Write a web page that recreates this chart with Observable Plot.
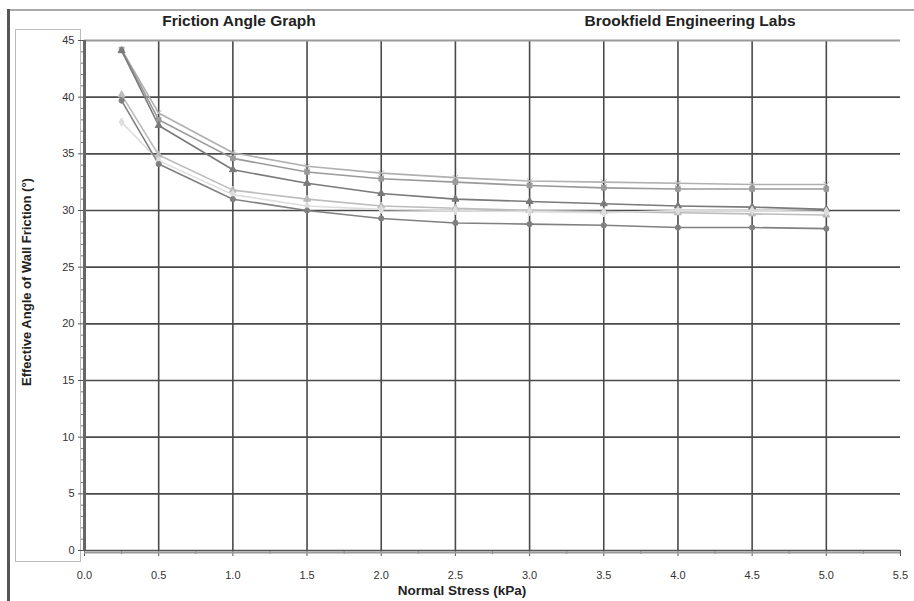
<!DOCTYPE html>
<html>
<head>
<meta charset="utf-8">
<script src="https://cdn.jsdelivr.net/npm/d3@7"></script>
<script src="https://cdn.jsdelivr.net/npm/@observablehq/plot@0.6"></script>
<style>
  html, body { margin: 0; padding: 0; background: #fff; }
  #wrap { position: relative; width: 914px; height: 601px; overflow: hidden; font-family: "Liberation Sans", Arial, sans-serif; }
  .title { position: absolute; top: 12px; font-family: "Liberation Sans Narrow", "Arial Narrow", "Liberation Sans", sans-serif; font-weight: bold; font-size: 15.5px; color: #222; transform: translateX(-50%); white-space: nowrap; }
  #leftbar { position: absolute; left: 7px; top: 9px; width: 3px; height: 592px; background: #555; }
  #topbar { position: absolute; left: 8px; top: 9px; width: 906px; height: 2px; background: #aaa; }
  #ybox { position: absolute; left: 15px; top: 29px; width: 66px; height: 533px; border: 1px solid #bbb; box-sizing: border-box; }
  #ylabel { position: absolute; left: 26px; top: 282px; transform: translate(-50%, -50%) rotate(-90deg); font-family: "Liberation Sans Narrow", "Arial Narrow", "Liberation Sans", sans-serif; font-weight: bold; font-size: 13px; color: #222; white-space: nowrap; }
  #xlabel { position: absolute; left: 462px; top: 583px; transform: translateX(-50%); font-family: "Liberation Sans Narrow", "Arial Narrow", "Liberation Sans", sans-serif; font-weight: bold; font-size: 13.5px; color: #222; white-space: nowrap; }
  #chart { position: absolute; left: 0; top: 28px; }
</style>
</head>
<body>
<div id="wrap">
  <div id="topbar"></div>
  <div id="leftbar"></div>
  <div id="ybox"></div>
  <div class="title" style="left:239px">Friction Angle Graph</div>
  <div class="title" style="left:690px">Brookfield Engineering Labs</div>
  <div id="ylabel">Effective Angle of Wall Friction (°)</div>
  <div id="chart"></div>
  <div id="xlabel">Normal Stress (kPa)</div>
</div>
<script>
// Normal stress values (kPa)
const stress = [0.25, 0.5, 1.0, 1.5, 2.0, 2.5, 3.0, 3.5, 4.0, 4.5, 5.0];
// Effective angle of wall friction (degrees) for each test series
const series1 = [44.2, 38.6, 35.1, 33.9, 33.3, 32.9, 32.6, 32.5, 32.4, 32.3, 32.3];
const series2 = [44.2, 38.0, 34.6, 33.4, 32.8, 32.5, 32.2, 32.0, 31.9, 31.9, 31.9];
const series3 = [44.1, 37.5, 33.6, 32.4, 31.5, 31.0, 30.8, 30.6, 30.4, 30.3, 30.1];
const series4 = [40.2, 34.9, 31.8, 31.0, 30.4, 30.2, 30.0, 29.9, 29.8, 29.7, 29.6];
const series5 = [37.8, 34.4, 31.4, 30.4, 30.1, 30.0, 29.9, 29.8, 30.0, 30.0, 29.9];
const series6 = [39.7, 34.1, 31.0, 30.0, 29.3, 28.9, 28.8, 28.7, 28.5, 28.5, 28.4];
const seriesNames = ["S1", "S2", "S3", "S4", "S5", "S6"];
const seriesColors = ["#b0b0b0", "#9a9a9a", "#7a7a7a", "#bcbcbc", "#dedede", "#808080"];
const seriesSymbols = ["times", "square", "triangle", "triangle", "diamond", "circle"];
// Axis ticks
const xTicks = [0, 0.5, 1.0, 1.5, 2.0, 2.5, 3.0, 3.5, 4.0, 4.5, 5.0, 5.5];
const xGrid = [0.5, 1.0, 1.5, 2.0, 2.5, 3.0, 3.5, 4.0, 4.5, 5.0];
const xMinor = [0.25, 0.75, 1.25, 1.75, 2.25, 2.75, 3.25, 3.75, 4.25, 4.75, 5.25];
const yTicks = [0, 5, 10, 15, 20, 25, 30, 35, 40, 45];
const yGrid = [5, 10, 15, 20, 25, 30, 35, 40];
const yMinor = [1, 2, 3, 4, 6, 7, 8, 9, 11, 12, 13, 14, 16, 17, 18, 19, 21, 22, 23, 24, 26, 27, 28, 29, 31, 32, 33, 34, 36, 37, 38, 39, 41, 42, 43, 44];

const allSeries = [series1, series2, series3, series4, series5, series6];
const data = [];
allSeries.forEach((vals, i) => {
  vals.forEach((v, j) => data.push({series: seriesNames[i], stress: stress[j], angle: v}));
});

const noLabel = () => "";
const font = "Liberation Sans, Arial, sans-serif";
const chart = Plot.plot({
  width: 914,
  height: 573,
  marginTop: 12,
  marginBottom: 51,
  marginLeft: 84,
  marginRight: 14,
  style: {background: "transparent", fontFamily: font, fontSize: "11px", color: "#333", overflow: "visible"},
  x: {domain: [0, 5.5], label: null},
  y: {domain: [0, 45], label: null},
  color: {domain: seriesNames, range: seriesColors},
  symbol: {domain: seriesNames, range: seriesSymbols},
  marks: [
    Plot.ruleX(xGrid, {stroke: "#4a4a4a", strokeWidth: 1.6}),
    Plot.ruleY(yGrid, {stroke: "#4a4a4a", strokeWidth: 1.6}),
    Plot.ruleY([45], {stroke: "#9a9a9a", strokeWidth: 2}),
    Plot.axisX({ticks: xTicks, tickFormat: d3.format(".1f"), tickSize: 6, tickPadding: 15, stroke: "#555", fontSize: 11}),
    Plot.axisX({ticks: xMinor, tickFormat: noLabel, tickSize: 4, stroke: "#777"}),
    Plot.axisY({ticks: yTicks, tickSize: 6, tickPadding: 4, stroke: "#555", fontSize: 11}),
    Plot.axisY({ticks: yMinor, tickFormat: noLabel, tickSize: 3, stroke: "#777"}),
    Plot.line(data, {x: "stress", y: "angle", z: "series", stroke: "series", strokeWidth: 1.6}),
    Plot.dot(data, {x: "stress", y: "angle", stroke: "series", fill: "series", symbol: "series", r: 2.6, strokeWidth: 1}),
    Plot.ruleX([0], {stroke: "#666", strokeWidth: 3}),
    Plot.ruleY([0], {stroke: "#555", strokeWidth: 1.5}),
    Plot.ruleY([0], {stroke: "#999", strokeWidth: 2, dy: 2})
  ]
});
document.getElementById("chart").appendChild(chart);
</script>
</body>
</html>
